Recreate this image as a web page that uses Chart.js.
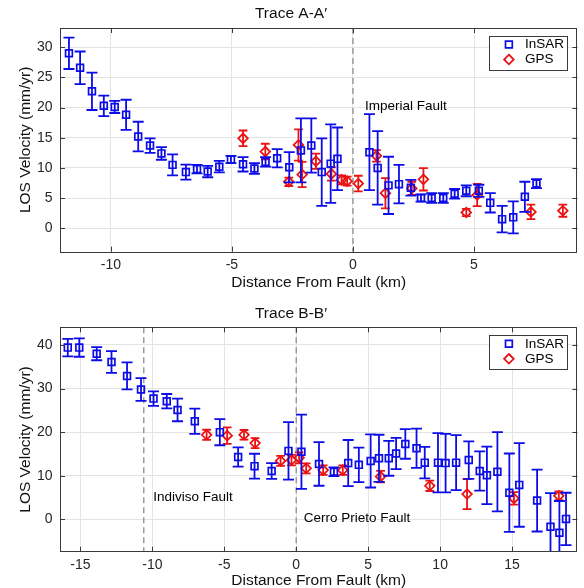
<!DOCTYPE html>
<html lang="en">
<head>
  <meta charset="UTF-8" />
  <title>LOS Velocity Profiles</title>
  <script src="https://cdn.jsdelivr.net/npm/chart.js"></script>
  <style>
    * { margin: 0; padding: 0; box-sizing: border-box; }
    html, body { background: #fff; width: 584px; height: 588px; overflow: hidden; }
    .panel { position: relative; width: 584px; }
    #panelA { height: 296px; }
    #panelB { height: 292px; }
  </style>
</head>
<body>
  <div class="panel" id="panelA"><canvas id="chartA"></canvas></div>
  <div class="panel" id="panelB"><canvas id="chartB"></canvas></div>

  <script>
    // ---- Trace A-A' ----
    const distInsarA = [-11.73, -11.27, -10.78, -10.29, -9.84, -9.37, -8.87, -8.38, -7.91, -7.45,
      -6.9, -6.44, -6.0, -5.52, -5.04, -4.54, -4.07, -3.61, -3.13, -2.63,
      -2.15, -1.72, -1.29, -0.92, -0.64, 0.68, 1.02, 1.47, 1.9, 2.39,
      2.81, 3.25, 3.73, 4.2, 4.68, 5.2, 5.67, 6.16, 6.62, 7.1, 7.58];
    const velInsarA = [29.0, 26.6, 22.7, 20.3, 20.1, 18.8, 15.2, 13.7, 12.4, 10.5,
      9.3, 9.8, 9.4, 10.2, 11.4, 10.6, 9.9, 11.0, 11.6, 10.1,
      12.9, 13.7, 9.3, 10.7, 11.5, 12.6, 10.0, 7.1, 7.3, 6.7,
      5.0, 5.0, 5.0, 5.7, 6.2, 6.2, 4.2, 1.5, 1.8, 5.2, 7.4];
    const errInsarA = [2.6, 2.7, 3.1, 1.7, 1.0, 2.5, 2.45, 1.2, 1.05, 1.75,
      1.25, 0.7, 0.95, 0.95, 0.6, 1.2, 0.9, 0.8, 1.5, 2.5,
      5.3, 4.5, 5.6, 6.5, 5.2, 6.3, 6.1, 4.75, 3.2, 1.3,
      0.6, 0.8, 0.8, 0.8, 0.9, 1.0, 1.6, 2.2, 2.65, 2.5, 0.75];
    const distGpsA = [-4.54, -3.62, -2.65, -2.25, -2.1, -1.53, -0.89, -0.47, -0.24,
      0.22, 0.97, 1.34, 2.43, 2.91, 4.68, 5.13, 7.35, 8.67];
    const velGpsA = [14.9, 12.7, 7.7, 13.8, 8.9, 11.1, 9.0, 8.0, 7.8,
      7.4, 12.0, 5.8, 6.6, 8.1, 2.6, 5.5, 2.7, 2.9];
    const errGpsA = [1.3, 1.3, 0.7, 2.6, 2.1, 1.25, 1.1, 0.75, 0.75,
      1.3, 0.95, 2.5, 1.1, 1.85, 0.6, 1.85, 1.2, 1.0];
    const ticksXA = [-10, -5, 0, 5];
    const ticksYA = [0, 5, 10, 15, 20, 25, 30];

    // ---- Trace B-B' ----
    const distInsarB = [-15.88, -15.08, -13.87, -12.84, -11.76, -10.79, -9.92, -9.0, -8.25, -7.05,
      -5.31, -4.04, -2.9, -1.71, -0.54, 0.36, 1.58, 2.62, 3.61, 4.35,
      5.17, 5.75, 6.43, 6.94, 7.58, 8.36, 8.93, 9.85, 10.38, 11.11,
      11.99, 12.75, 13.25, 13.98, 14.81, 15.5, 16.74, 17.67, 18.29, 18.75];
    const velInsarB = [39.4, 39.4, 38.0, 36.1, 32.9, 29.8, 27.7, 27.1, 25.1, 22.5,
      20.0, 14.3, 12.2, 11.1, 15.7, 15.5, 12.7, 10.9, 12.9, 12.5,
      13.4, 14.0, 14.0, 15.1, 17.3, 16.3, 13.0, 13.0, 12.9, 13.0,
      13.6, 11.1, 10.1, 10.9, 6.1, 7.9, 4.3, -1.7, -3.1, 0.1];
    const errInsarB = [2.0, 2.1, 1.5, 2.5, 3.1, 2.6, 1.65, 1.65, 2.6, 2.9,
      3.0, 2.2, 2.85, 1.8, 6.6, 8.5, 5.0, 1.0, 5.3, 3.95,
      6.1, 5.4, 4.0, 3.6, 3.4, 4.5, 3.6, 6.8, 6.7, 6.3,
      4.3, 4.5, 6.6, 9.1, 9.0, 9.6, 7.1, 7.7, 7.3, 6.0];
    const distGpsB = [-6.23, -4.8, -3.63, -2.86, -1.09, -0.33, 0.2, 0.69, 1.87, 3.23,
      5.86, 9.28, 11.87, 15.13, 18.25];
    const velGpsB = [19.4, 19.2, 19.4, 17.5, 13.4, 13.6, 14.1, 11.7, 11.3, 11.3,
      9.8, 7.7, 5.8, 4.8, 5.4];
    const errGpsB = [1.15, 1.9, 1.1, 1.15, 1.15, 1.2, 1.25, 1.15, 1.1, 1.1,
      1.3, 1.2, 3.45, 1.45, 1.0];
    const ticksXB = [-15, -10, -5, 0, 5, 10, 15];
    const ticksYB = [0, 10, 20, 30, 40];

    Chart.defaults.font.family = '"Liberation Sans", Arial, Helvetica, sans-serif';
    Chart.defaults.color = '#262626';
    Chart.defaults.animation = false;

    const BLUE = '#0c0ce8';
    const RED = '#ea1212';
    const FRAME = '#3a3a3a';

    function markerPath(ctx, style, x, y, r) {
      ctx.beginPath();
      if (style === 'rect') {
        const s = r * Math.SQRT1_2;
        ctx.rect(x - s, y - s, 2 * s, 2 * s);
      } else {
        ctx.moveTo(x, y - r); ctx.lineTo(x + r, y);
        ctx.lineTo(x, y + r); ctx.lineTo(x - r, y);
        ctx.closePath();
      }
    }

    // vertical error bars, drawn just under each dataset's markers
    const errorBars = {
      id: 'errorBars',
      beforeDatasetDraw(chart, args) {
        const ds = chart.data.datasets[args.index];
        if (!ds.errors) return;
        const { ctx, chartArea: a, scales: { x, y } } = chart;
        ctx.save();
        ctx.beginPath();
        ctx.rect(a.left, a.top, a.right - a.left, a.bottom - a.top);
        ctx.clip();
        ctx.strokeStyle = ds.borderColor;
        ctx.lineWidth = 1.8;
        ctx.beginPath();
        ds.data.forEach((p, i) => {
          const px = x.getPixelForValue(p.x);
          const lo = y.getPixelForValue(p.y - ds.errors[i]);
          const hi = y.getPixelForValue(p.y + ds.errors[i]);
          ctx.moveTo(px, lo); ctx.lineTo(px, hi);
          ctx.moveTo(px - ds.cap, lo); ctx.lineTo(px + ds.cap, lo);
          ctx.moveTo(px - ds.cap, hi); ctx.lineTo(px + ds.cap, hi);
        });
        ctx.stroke();
        ctx.restore();
      }
    };

    // axes box with inward ticks on all four sides
    const frame = {
      id: 'frame',
      afterDraw(chart) {
        const { ctx, chartArea: a, scales: { x, y } } = chart;
        const t = 5;
        ctx.save();
        ctx.strokeStyle = FRAME;
        ctx.lineWidth = 1;
        ctx.beginPath();
        x.ticks.forEach(tk => {
          const px = Math.round(x.getPixelForValue(tk.value)) + 0.5;
          ctx.moveTo(px, a.bottom); ctx.lineTo(px, a.bottom - t);
          ctx.moveTo(px, a.top); ctx.lineTo(px, a.top + t);
        });
        y.ticks.forEach(tk => {
          const py = Math.round(y.getPixelForValue(tk.value)) + 0.5;
          ctx.moveTo(a.left, py); ctx.lineTo(a.left + t, py);
          ctx.moveTo(a.right, py); ctx.lineTo(a.right - t, py);
        });
        ctx.stroke();
        ctx.strokeRect(Math.round(a.left) + 0.5, Math.round(a.top) + 0.5,
          Math.round(a.right - a.left) - 1, Math.round(a.bottom - a.top));
        ctx.restore();
      }
    };

    const legendBox = {
      id: 'legendBox',
      afterDraw(chart) {
        const { ctx, chartArea: a } = chart;
        const w = 78, h = 34;
        const left = a.right - 10 - w, top = a.top + 7.5;
        ctx.save();
        ctx.fillStyle = '#fff';
        ctx.fillRect(left, top, w, h);
        ctx.strokeStyle = FRAME;
        ctx.lineWidth = 1;
        ctx.strokeRect(Math.round(left) + 0.5, Math.round(top) + 0.5, w, h);
        ctx.font = '13.5px "Liberation Sans", Arial, sans-serif';
        ctx.textBaseline = 'middle';
        chart.data.datasets.forEach((ds, i) => {
          const cy = top + 9 + i * 15;
          ctx.strokeStyle = ds.borderColor;
          ctx.lineWidth = ds.borderWidth;
          markerPath(ctx, ds.pointStyle, left + 19.5, cy, ds.pointRadius);
          ctx.stroke();
          ctx.fillStyle = '#000';
          ctx.fillText(ds.label, left + 35.5, cy);
        });
        ctx.restore();
      }
    };

    function buildChart(id, p) {
      const faultPlugin = {
        id: 'faults',
        beforeDatasetsDraw(chart) {
          const { ctx, chartArea: a, scales: { x, y } } = chart;
          ctx.save();
          ctx.strokeStyle = '#9a9a9a';
          ctx.lineWidth = 1.5;
          ctx.setLineDash([6, 4]);
          p.faults.forEach(f => {
            const px = x.getPixelForValue(f);
            ctx.beginPath();
            ctx.moveTo(px, a.top); ctx.lineTo(px, a.bottom);
            ctx.stroke();
          });
          ctx.setLineDash([]);
          ctx.fillStyle = '#000';
          ctx.font = '13.5px "Liberation Sans", Arial, sans-serif';
          ctx.textBaseline = 'middle';
          p.notes.forEach(n => ctx.fillText(n.text, x.getPixelForValue(n.x), y.getPixelForValue(n.y)));
          ctx.restore();
        }
      };

      const tickFont = { size: 14 };
      return new Chart(document.getElementById(id), {
        type: 'scatter',
        data: {
          datasets: [
            {
              label: 'InSAR',
              data: p.insarX.map((d, i) => ({ x: d, y: p.insarY[i] })),
              errors: p.insarE, cap: 5.5,
              pointStyle: 'rect', pointRadius: 4.8, pointHoverRadius: 4.8,
              borderColor: BLUE, backgroundColor: 'rgba(0,0,0,0)', borderWidth: 1.7
            },
            {
              label: 'GPS',
              data: p.gpsX.map((d, i) => ({ x: d, y: p.gpsY[i] })),
              errors: p.gpsE, cap: 4.4,
              pointStyle: 'rectRot', pointRadius: 4.8, pointHoverRadius: 4.8,
              borderColor: RED, backgroundColor: 'rgba(0,0,0,0)', borderWidth: 1.8
            }
          ]
        },
        options: {
          responsive: true,
          maintainAspectRatio: false,
          events: [],
          layout: { padding: { left: 0, right: 2, top: 0, bottom: 0 } },
          scales: {
            x: {
              type: 'linear', min: p.xMin, max: p.xMax, bounds: 'data',
              afterBuildTicks: s => { s.ticks = p.ticksX.map(v => ({ value: v })); },
              afterFit: s => { s.height = p.xAxisH; },
              grid: { color: '#e4e4e4', drawTicks: false },
              border: { display: false },
              ticks: { padding: 5, font: tickFont, color: '#262626', callback: v => String(v) },
              title: {
                display: true, text: 'Distance From Fault (km)', color: '#111',
                font: { size: 15.5, lineHeight: 1 }, padding: { top: 0, bottom: p.xTitlePad }
              }
            },
            y: {
              type: 'linear', min: p.yMin, max: p.yMax, bounds: 'data',
              afterBuildTicks: s => { s.ticks = p.ticksY.map(v => ({ value: v })); },
              afterFit: s => { s.width = 60; },
              grid: { color: '#e4e4e4', drawTicks: false },
              border: { display: false },
              ticks: { padding: 7.5, font: tickFont, color: '#262626', callback: v => String(v) },
              title: {
                display: true, text: 'LOS Velocity (mm/yr)', color: '#111',
                font: { size: 15.5 }, padding: { top: 16.5, bottom: 0 }
              }
            }
          },
          plugins: {
            legend: { display: false },
            tooltip: { enabled: false },
            title: {
              display: true, text: p.title, color: '#111',
              font: { size: 15.5, weight: 'normal' },
              padding: { top: p.titlePad[0], bottom: p.titlePad[1] }
            }
          }
        },
        plugins: [faultPlugin, errorBars, frame, legendBox]
      });
    }

    buildChart('chartA', {
      title: 'Trace A-A\u2032',
      insarX: distInsarA, insarY: velInsarA, insarE: errInsarA,
      gpsX: distGpsA, gpsY: velGpsA, gpsE: errGpsA,
      ticksX: ticksXA, ticksY: ticksYA,
      xMin: -12.1, xMax: 9.27, yMin: -3.9, yMax: 33.2,
      xAxisH: 44.3, xTitlePad: 6, titlePad: [4.7, 4.7],
      faults: [0],
      notes: [{ text: 'Imperial Fault', x: 0.5, y: 20.2 }]
    });

    buildChart('chartB', {
      title: 'Trace B-B\u2032',
      insarX: distInsarB, insarY: velInsarB, insarE: errInsarB,
      gpsX: distGpsB, gpsY: velGpsB, gpsE: errGpsB,
      ticksX: ticksXB, ticksY: ticksYB,
      xMin: -16.42, xMax: 19.54, yMin: -7.43, yMax: 44.06,
      xAxisH: 36.3, xTitlePad: 0, titlePad: [8.7, 4.0],
      faults: [-10.6, 0],
      notes: [
        { text: 'Indiviso Fault', x: -9.94, y: 5.1 },
        { text: 'Cerro Prieto Fault', x: 0.52, y: 0.3 }
      ]
    });
  </script>
</body>
</html>
